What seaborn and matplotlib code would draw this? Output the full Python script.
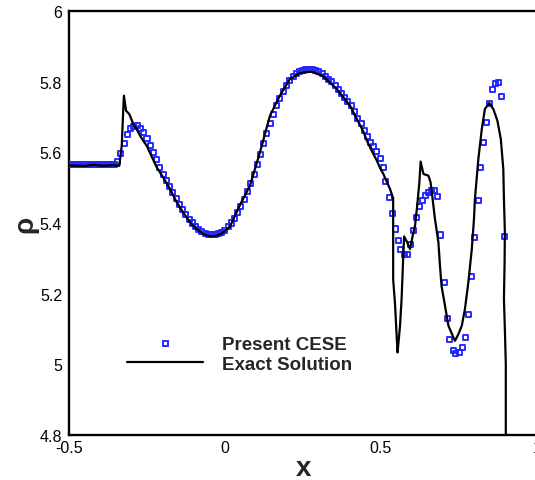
import matplotlib
matplotlib.use("Agg")
import matplotlib.pyplot as plt
import seaborn as sns
import numpy as np
from matplotlib.lines import Line2D
from matplotlib.ticker import MultipleLocator, FuncFormatter

# ---------------- data ----------------
x_exact = [-0.500, -0.450, -0.420, -0.390, -0.360, -0.339, -0.331, -0.326, -0.324, -0.317,
           -0.307, -0.294, -0.283, -0.272, -0.262, -0.251, -0.240, -0.219, -0.198, -0.176,
           -0.155, -0.134, -0.112, -0.091, -0.070, -0.048, -0.030, -0.010, 0.016, 0.037,
           0.048, 0.080, 0.112, 0.144, 0.176, 0.208, 0.240, 0.278, 0.315, 0.358,
           0.401, 0.443, 0.454, 0.470, 0.486, 0.497, 0.507, 0.529, 0.539, 0.539,
           0.545, 0.549, 0.553, 0.557, 0.561, 0.566, 0.571, 0.574, 0.584, 0.593,
           0.604, 0.609, 0.616, 0.623, 0.627, 0.636, 0.652, 0.659, 0.668, 0.673,
           0.684, 0.689, 0.694, 0.705, 0.716, 0.732, 0.737, 0.748, 0.759, 0.769,
           0.780, 0.791, 0.798, 0.801, 0.812, 0.823, 0.833, 0.847, 0.860, 0.873,
           0.884, 0.892, 0.894, 0.897, 0.896, 0.894, 0.897, 0.900, 0.900]
y_exact = [5.563, 5.562, 5.565, 5.562, 5.564, 5.562, 5.619, 5.723, 5.761, 5.718,
           5.709, 5.681, 5.666, 5.647, 5.633, 5.619, 5.598, 5.558, 5.529, 5.496,
           5.459, 5.430, 5.402, 5.383, 5.369, 5.362, 5.363, 5.370, 5.390, 5.430,
           5.451, 5.506, 5.600, 5.704, 5.761, 5.808, 5.825, 5.829, 5.816, 5.780,
           5.732, 5.660, 5.635, 5.605, 5.578, 5.556, 5.540, 5.496, 5.470, 5.240,
           5.170, 5.100, 5.033, 5.070, 5.109, 5.185, 5.298, 5.362, 5.345, 5.326,
           5.374, 5.392, 5.449, 5.515, 5.574, 5.539, 5.534, 5.515, 5.449, 5.411,
           5.345, 5.279, 5.222, 5.166, 5.109, 5.076, 5.066, 5.085, 5.109, 5.156,
           5.232, 5.326, 5.411, 5.468, 5.581, 5.666, 5.723, 5.740, 5.723, 5.690,
           5.638, 5.553, 5.468, 5.374, 5.280, 5.185, 5.100, 5.000, 4.800]

x_cese = [-0.500, -0.490, -0.479, -0.469, -0.458, -0.448, -0.438, -0.427, -0.417, -0.406,
          -0.396, -0.386, -0.375, -0.365, -0.354, -0.344, -0.334, -0.323, -0.313, -0.302,
          -0.292, -0.282, -0.271, -0.261, -0.250, -0.240, -0.230, -0.219, -0.209, -0.198,
          -0.188, -0.178, -0.167, -0.157, -0.146, -0.136, -0.126, -0.115, -0.105, -0.094,
          -0.084, -0.074, -0.063, -0.053, -0.042, -0.032, -0.022, -0.011, -0.001, 0.010,
          0.020, 0.030, 0.041, 0.051, 0.062, 0.072, 0.082, 0.093, 0.103, 0.114,
          0.124, 0.134, 0.145, 0.155, 0.166, 0.176, 0.186, 0.197, 0.207, 0.218,
          0.228, 0.238, 0.249, 0.259, 0.270, 0.280, 0.290, 0.301, 0.311, 0.322,
          0.332, 0.342, 0.353, 0.363, 0.374, 0.384, 0.394, 0.405, 0.415, 0.426,
          0.436, 0.446, 0.457, 0.466, 0.475, 0.486, 0.497, 0.507, 0.516, 0.527,
          0.536, 0.547, 0.555, 0.564, 0.574, 0.584, 0.593, 0.604, 0.614, 0.624,
          0.633, 0.643, 0.653, 0.663, 0.673, 0.682, 0.691, 0.702, 0.713, 0.721,
          0.732, 0.740, 0.751, 0.760, 0.770, 0.780, 0.791, 0.801, 0.811, 0.820,
          0.830, 0.839, 0.847, 0.858, 0.866, 0.878, 0.887, 0.897]
y_cese = [5.566, 5.566, 5.566, 5.566, 5.566, 5.566, 5.566, 5.566, 5.566, 5.566,
          5.566, 5.566, 5.566, 5.566, 5.567, 5.575, 5.596, 5.626, 5.652, 5.667,
          5.674, 5.676, 5.668, 5.656, 5.640, 5.620, 5.600, 5.579, 5.558, 5.537,
          5.520, 5.503, 5.487, 5.469, 5.453, 5.438, 5.425, 5.411, 5.400, 5.390,
          5.382, 5.376, 5.371, 5.368, 5.367, 5.368, 5.370, 5.374, 5.380, 5.389,
          5.400, 5.414, 5.430, 5.448, 5.467, 5.488, 5.512, 5.538, 5.565, 5.594,
          5.624, 5.653, 5.682, 5.708, 5.733, 5.754, 5.773, 5.790, 5.804, 5.815,
          5.823, 5.829, 5.833, 5.835, 5.835, 5.834, 5.832, 5.828, 5.823, 5.816,
          5.808, 5.800, 5.790, 5.779, 5.768, 5.756, 5.744, 5.732, 5.716, 5.697,
          5.681, 5.662, 5.644, 5.628, 5.616, 5.602, 5.584, 5.556, 5.517, 5.473,
          5.427, 5.383, 5.349, 5.325, 5.310, 5.312, 5.338, 5.378, 5.416, 5.446,
          5.465, 5.479, 5.487, 5.491, 5.491, 5.474, 5.366, 5.230, 5.130, 5.070,
          5.038, 5.030, 5.032, 5.046, 5.076, 5.142, 5.248, 5.359, 5.463, 5.558,
          5.629, 5.685, 5.739, 5.778, 5.794, 5.799, 5.759, 5.362]

labels = ["Present CESE", "Exact Solution"]
x_label = "x"
y_label = "\u03c1"

# ---------------- style ----------------
sns.set_theme(style="white")
plt.rcParams['font.family'] = ['Liberation Sans', 'DejaVu Sans']
plt.rcParams['axes.unicode_minus'] = False

blue = "#2424ff"

fig = plt.figure(figsize=(5.35, 4.81), dpi=100)
ax = fig.add_axes([69/535, 1 - 435.7/481, 468/535, 423.4/481])

sns.scatterplot(x=x_cese, y=y_cese, ax=ax, marker='s', s=13,
                facecolor='none', edgecolor=blue, linewidth=1.35, zorder=3)
sns.lineplot(x=x_exact, y=y_exact, ax=ax, sort=False, estimator=None,
             color='black', linewidth=1.6, zorder=4)

ax.set_xlim(-0.5, 1.0)
ax.set_ylim(4.8, 6.0)

ax.xaxis.set_major_locator(MultipleLocator(0.5))
ax.xaxis.set_minor_locator(MultipleLocator(0.1))
ax.yaxis.set_major_locator(MultipleLocator(0.2))
ax.yaxis.set_minor_locator(MultipleLocator(0.05))
fmt = FuncFormatter(lambda v, p: ('%g' % round(v, 3)))
ax.xaxis.set_major_formatter(fmt)
ax.yaxis.set_major_formatter(fmt)

ax.tick_params(which='major', direction='in', length=8, width=1.5,
               labelsize=11.5, colors='black', top=False, right=False)
ax.tick_params(which='minor', direction='in', length=4.5, width=0.9,
               top=False, right=False)
ax.tick_params(axis='x', which='major', pad=3.5)
ax.tick_params(axis='y', which='major', pad=5)

for side in ['left', 'bottom', 'top', 'right']:
    ax.spines[side].set_color('black')
    ax.spines[side].set_linewidth(1.7)

ax.set_xlabel(x_label, fontsize=20, fontweight='bold', labelpad=0)
ax.set_ylabel(y_label, fontsize=20, fontweight='bold', labelpad=1)

handles = [Line2D([], [], marker='s', linestyle='none', markerfacecolor='none',
                  markeredgecolor=blue, markersize=3.6, markeredgewidth=1.35),
           Line2D([], [], color='black', linewidth=1.6)]
ax.legend(handles, labels, loc='center left', bbox_to_anchor=(58/468, 0.19),
          frameon=False, borderpad=0, borderaxespad=0, handlelength=4.05,
          handletextpad=1.0, labelspacing=0.12,
          prop={'weight': 'bold', 'size': 13.5})

fig.savefig("out.png", dpi=100)
